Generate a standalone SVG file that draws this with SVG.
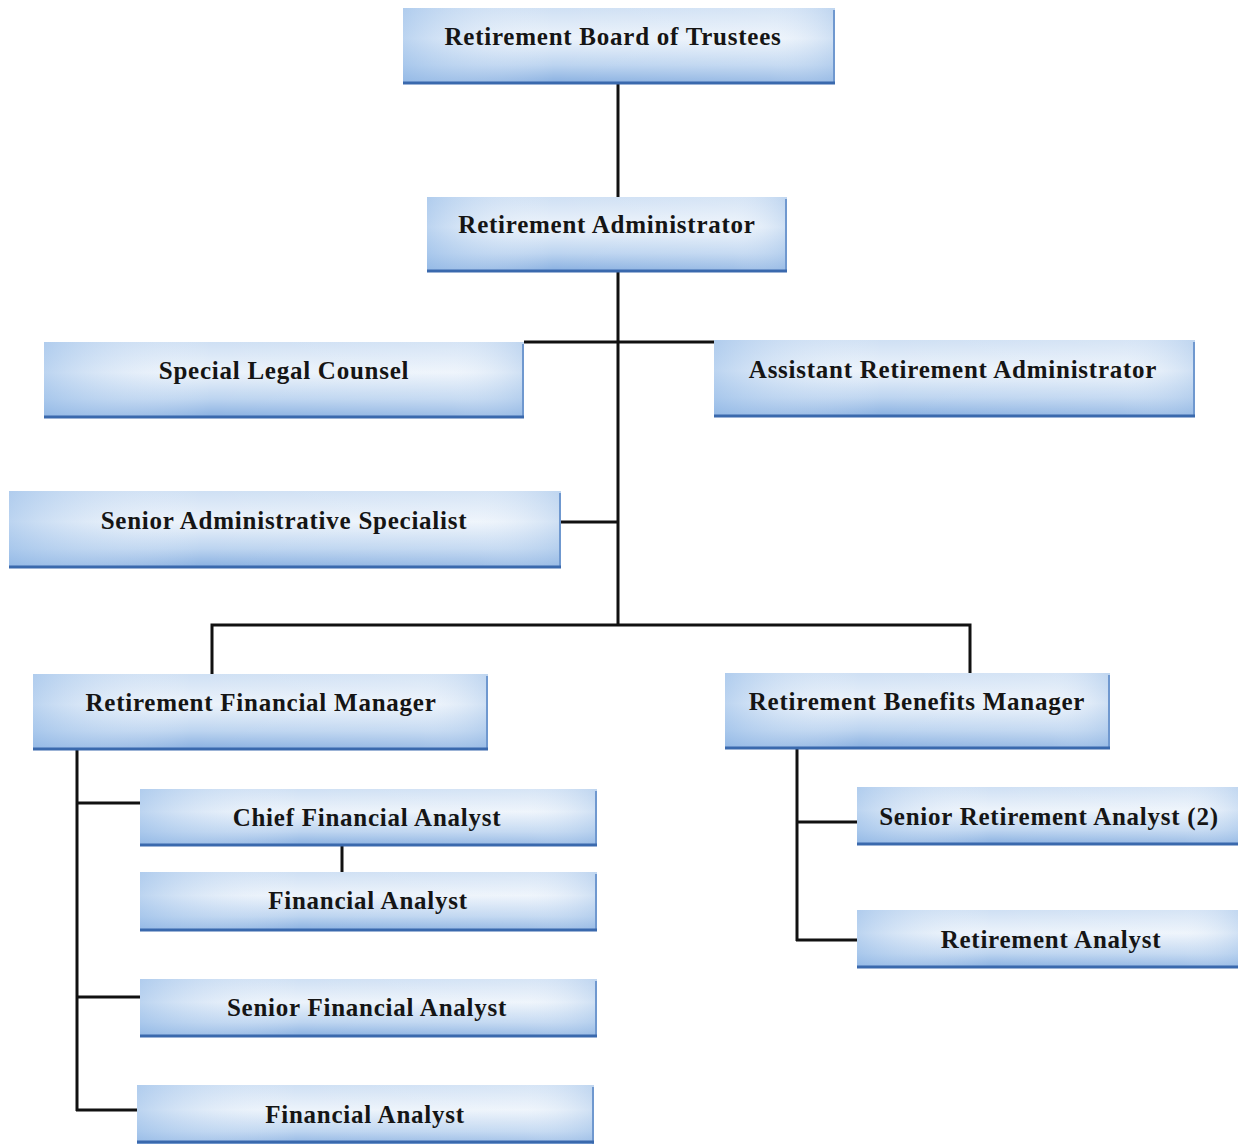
<svg xmlns="http://www.w3.org/2000/svg" width="1238" height="1144" viewBox="0 0 1238 1144">
<defs>
<linearGradient id="gv" x1="0" y1="0" x2="0" y2="1">
<stop offset="0" stop-color="#cfe0f4"/>
<stop offset="0.4" stop-color="#ecf3fb"/>
<stop offset="0.75" stop-color="#bcd4f0"/>
<stop offset="1" stop-color="#86aee0"/>
</linearGradient>
<linearGradient id="gh" x1="0" y1="0" x2="1" y2="0">
<stop offset="0" stop-color="#9bbfe9" stop-opacity="0.6"/>
<stop offset="0.35" stop-color="#ffffff" stop-opacity="0"/>
<stop offset="0.85" stop-color="#ffffff" stop-opacity="0.15"/>
<stop offset="1" stop-color="#a9c7ea" stop-opacity="0.45"/>
</linearGradient>
</defs>
<style>
.b{fill:url(#gv);}
.o{fill:url(#gh);}
.s{stroke:#3a69ad;stroke-width:3;}
.r{stroke:#6f98cf;stroke-width:2;}
.t{font-family:"Liberation Serif",serif;font-weight:bold;font-size:25px;letter-spacing:0.75px;fill:#151515;text-anchor:middle;}
.c{stroke:#111;stroke-width:3;fill:none;}
</style>
<g id="connectors">
<line class="c" x1="618" y1="84" x2="618" y2="197"/>
<line class="c" x1="618" y1="272" x2="618" y2="626"/>
<line class="c" x1="524" y1="342" x2="714" y2="342"/>
<line class="c" x1="561" y1="522" x2="618" y2="522"/>
<polyline class="c" points="212,674 212,625 970,625 970,673"/>
<line class="c" x1="77" y1="750" x2="77" y2="1111"/>
<line class="c" x1="76" y1="803" x2="140" y2="803"/>
<line class="c" x1="76" y1="997" x2="140" y2="997"/>
<line class="c" x1="76" y1="1110" x2="137" y2="1110"/>
<line class="c" x1="342" y1="846" x2="342" y2="872"/>
<line class="c" x1="797" y1="749" x2="797" y2="941"/>
<line class="c" x1="796" y1="822" x2="857" y2="822"/>
<line class="c" x1="796" y1="940" x2="857" y2="940"/>
</g>
<g id="n1">
<rect class="b" x="403" y="8" width="432" height="76"/><rect class="o" x="403" y="8" width="432" height="76"/>
<line class="r" x1="834" y1="10" x2="834" y2="84"/><line class="s" x1="403" y1="83" x2="835" y2="83"/>
<text class="t" x="613" y="45">Retirement Board of Trustees</text>
</g>
<g id="n2">
<rect class="b" x="427" y="197" width="360" height="75"/><rect class="o" x="427" y="197" width="360" height="75"/>
<line class="r" x1="786" y1="199" x2="786" y2="272"/><line class="s" x1="427" y1="271" x2="787" y2="271"/>
<text class="t" x="607" y="233">Retirement Administrator</text>
</g>
<g id="n3">
<rect class="b" x="44" y="342" width="480" height="76"/><rect class="o" x="44" y="342" width="480" height="76"/>
<line class="r" x1="523" y1="344" x2="523" y2="418"/><line class="s" x1="44" y1="417" x2="524" y2="417"/>
<text class="t" x="284" y="379">Special Legal Counsel</text>
</g>
<g id="n4">
<rect class="b" x="714" y="340" width="481" height="77"/><rect class="o" x="714" y="340" width="481" height="77"/>
<line class="r" x1="1194" y1="342" x2="1194" y2="417"/><line class="s" x1="714" y1="416" x2="1195" y2="416"/>
<text class="t" x="953" y="378">Assistant Retirement Administrator</text>
</g>
<g id="n5">
<rect class="b" x="9" y="491" width="552" height="77"/><rect class="o" x="9" y="491" width="552" height="77"/>
<line class="r" x1="560" y1="493" x2="560" y2="568"/><line class="s" x1="9" y1="567" x2="561" y2="567"/>
<text class="t" x="284" y="529">Senior Administrative Specialist</text>
</g>
<g id="n6">
<rect class="b" x="33" y="674" width="455" height="76"/><rect class="o" x="33" y="674" width="455" height="76"/>
<line class="r" x1="487" y1="676" x2="487" y2="750"/><line class="s" x1="33" y1="749" x2="488" y2="749"/>
<text class="t" x="261" y="711">Retirement Financial Manager</text>
</g>
<g id="n7">
<rect class="b" x="725" y="673" width="385" height="76"/><rect class="o" x="725" y="673" width="385" height="76"/>
<line class="r" x1="1109" y1="675" x2="1109" y2="749"/><line class="s" x1="725" y1="748" x2="1110" y2="748"/>
<text class="t" x="917" y="710">Retirement Benefits Manager</text>
</g>
<g id="n8">
<rect class="b" x="140" y="789" width="457" height="57"/><rect class="o" x="140" y="789" width="457" height="57"/>
<line class="r" x1="596" y1="791" x2="596" y2="846"/><line class="s" x1="140" y1="845" x2="597" y2="845"/>
<text class="t" x="367" y="826">Chief Financial Analyst</text>
</g>
<g id="n9">
<rect class="b" x="140" y="872" width="457" height="59"/><rect class="o" x="140" y="872" width="457" height="59"/>
<line class="r" x1="596" y1="874" x2="596" y2="931"/><line class="s" x1="140" y1="930" x2="597" y2="930"/>
<text class="t" x="368" y="909">Financial Analyst</text>
</g>
<g id="n10">
<rect class="b" x="140" y="979" width="457" height="58"/><rect class="o" x="140" y="979" width="457" height="58"/>
<line class="r" x1="596" y1="981" x2="596" y2="1037"/><line class="s" x1="140" y1="1036" x2="597" y2="1036"/>
<text class="t" x="367" y="1016">Senior Financial Analyst</text>
</g>
<g id="n11">
<rect class="b" x="137" y="1085" width="457" height="62"/><rect class="o" x="137" y="1085" width="457" height="62"/>
<line class="r" x1="593" y1="1087" x2="593" y2="1144"/><line class="s" x1="137" y1="1142" x2="594" y2="1142"/>
<text class="t" x="365" y="1123">Financial Analyst</text>
</g>
<g id="n12">
<rect class="b" x="857" y="787" width="385" height="58"/><rect class="o" x="857" y="787" width="385" height="58"/>
<line class="s" x1="857" y1="844" x2="1238" y2="844"/>
<text class="t" x="1049" y="825">Senior Retirement Analyst (2)</text>
</g>
<g id="n13">
<rect class="b" x="857" y="910" width="385" height="58"/><rect class="o" x="857" y="910" width="385" height="58"/>
<line class="s" x1="857" y1="967" x2="1238" y2="967"/>
<text class="t" x="1051" y="948">Retirement Analyst</text>
</g>
</svg>
